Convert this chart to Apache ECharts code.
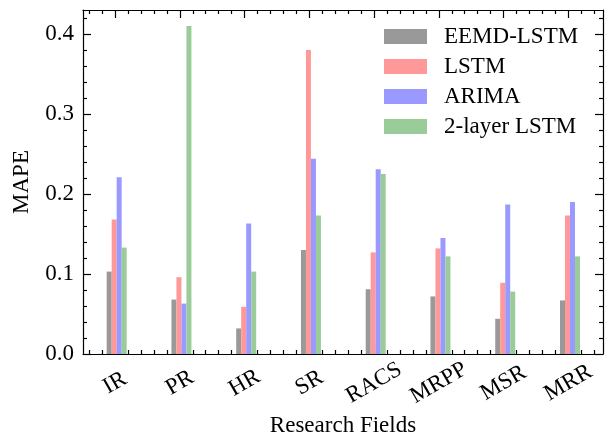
<!DOCTYPE html>
<html>
<head>
<meta charset="utf-8">
<script src="https://cdn.jsdelivr.net/npm/echarts@6/dist/echarts.min.js"></script>
<style>
  html, body { margin: 0; padding: 0; background: #fff; }
  #chart { width: 608px; height: 445px; }
</style>
</head>
<body>
<div id="chart"></div>
<script>
// values
const categories = ['IR', 'PR', 'HR', 'SR', 'RACS', 'MRPP', 'MSR', 'MRR'];
const seriesNames = ['EEMD-LSTM', 'LSTM', 'ARIMA', '2-layer LSTM'];
const eemdLstm = [0.103, 0.068, 0.032, 0.130, 0.081, 0.072, 0.044, 0.067];
const lstm = [0.168, 0.096, 0.059, 0.380, 0.127, 0.132, 0.089, 0.173];
const arima = [0.221, 0.063, 0.163, 0.244, 0.231, 0.145, 0.187, 0.190];
const twoLayerLstm = [0.133, 0.410, 0.103, 0.173, 0.225, 0.122, 0.078, 0.122];
const yTickLabels = ['0.0', '0.1', '0.2', '0.3', '0.4'];

const colors = ['#999999', '#ff9999', '#9999ff', '#99cc99'];
const font = 'Liberation Serif';
const fontSize = 23;

const xMin = -0.495, xMax = 7.535;
const yMin = 0, yMax = 0.43;
const groupShift = 0.025;

let xMajor = categories.map((c, i) => i);
let xMinor = [];
for (let v = -0.4; v < xMax; v += 0.2)
{
  let r = Math.round(v * 10) / 10;
  if (Math.abs(r - Math.round(r)) > 1e-6 && r > xMin) xMinor.push(r);
};
let yMajor = yTickLabels.map(t => parseFloat(t));
let yMinor = [];
for (let k = 1; k * 0.02 < yMax; k++)
{
  if (k % 5 != 0) yMinor.push(Math.round(k * 2) / 100);
};

const lineStyle = {color: '#000', width: 1.2};

function xAxis(grid, pos, ticks, len, line, labels) {
  return {
    type: 'value', gridIndex: grid, position: pos, min: xMin, max: xMax,
    axisLine: {show: line, onZero: false, lineStyle: lineStyle},
    axisTick: {show: true, inside: true, length: len, customValues: ticks, lineStyle: lineStyle},
    axisLabel: labels? {
      show: true, customValues: xMajor,
      formatter: v => categories[Math.round(v)],
      rotate: 30, align: 'center', verticalAlign: 'middle', margin: 29,
      fontFamily: font, fontSize: fontSize, color: '#000'
    }: {show: false},
    splitLine: {show: false}
  };
};

function yAxis(grid, pos, ticks, len, line, labels) {
  return {
    type: 'value', gridIndex: grid, position: pos, min: yMin, max: yMax,
    axisLine: {show: line, onZero: false, lineStyle: lineStyle},
    axisTick: {show: true, inside: true, length: len, customValues: ticks, lineStyle: lineStyle},
    axisLabel: labels? {
      show: true, customValues: yMajor,
      formatter: v => yTickLabels[Math.round(v * 10)],
      margin: 9, fontFamily: font, fontSize: fontSize, color: '#000'
    }: {show: false},
    splitLine: {show: false}
  };
};

let xAxes = [
  xAxis(0, 'bottom', xMajor, 8, true, true),
  xAxis(0, 'top', xMajor, 8, true, false),
  xAxis(1, 'bottom', xMinor, 4, false, false),
  xAxis(1, 'top', xMinor, 4, false, false)
];
Object.assign(xAxes[0], {
  name: 'Research Fields', nameLocation: 'middle', nameGap: 53,
  nameTextStyle: {fontFamily: font, fontSize: fontSize, color: '#000'}
});

let yAxes = [
  yAxis(0, 'left', yMajor, 8, true, true),
  yAxis(0, 'right', yMajor, 8, true, false),
  yAxis(1, 'left', yMinor, 4, false, false),
  yAxis(1, 'right', yMinor, 4, false, false)
];
Object.assign(yAxes[0], {
  name: 'MAPE', nameLocation: 'middle', nameGap: 50,
  nameTextStyle: {fontFamily: font, fontSize: fontSize, color: '#000'}
});

let seriesData = [eemdLstm, lstm, arima, twoLayerLstm];
let series = seriesData.map((vals, s) => ({
  name: seriesNames[s],
  type: 'bar',
  xAxisIndex: 0,
  yAxisIndex: 0,
  barWidth: 5,
  barGap: '0%',
  itemStyle: {color: colors[s]},
  data: vals.map((v, i) => [i + groupShift, v])
}));

let grid = {left: 83, right: 5, top: 10, bottom: 91};

let chart = echarts.init(document.getElementById('chart'), null, {renderer: 'canvas'});
chart.setOption({
  animation: false,
  backgroundColor: '#fff',
  grid: [Object.assign({}, grid), Object.assign({}, grid)],
  legend: {
    orient: 'vertical', left: 384, top: 25, padding: 0,
    icon: 'rect', itemWidth: 43, itemHeight: 15, itemGap: 7,
    textStyle: {fontFamily: font, fontSize: fontSize, color: '#000', padding: [0, 0, 0, 12]},
    data: seriesNames
  },
  xAxis: xAxes,
  yAxis: yAxes,
  series: series
});
</script>
</body>
</html>
